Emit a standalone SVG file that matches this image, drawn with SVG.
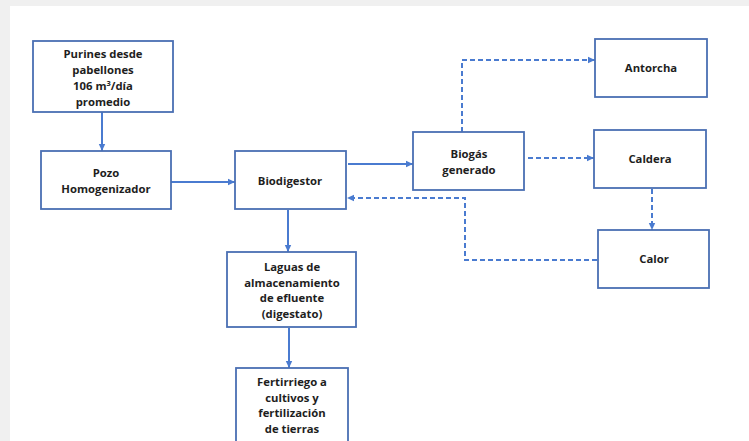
<svg xmlns="http://www.w3.org/2000/svg" width="749" height="441" viewBox="0 0 749 441">
<style>
.box{fill:#ffffff;stroke:#4a6fb3;stroke-width:1.8}
.t{font-family:"Open Sans","Liberation Sans",Arial,sans-serif;font-weight:bold;font-size:11.3px;fill:#1e1e1e;text-anchor:middle}
.c{fill:none;stroke:#4a7bd0;stroke-width:2}
.d{stroke-dasharray:5 3}
</style>
<defs>
<marker id="ah" markerWidth="8" markerHeight="8" refX="7" refY="4" orient="auto" markerUnits="userSpaceOnUse">
<path d="M0,0.8 L7,4 L0,7.2 Z" fill="#4a7bd0"/>
</marker>
</defs>
<rect x="0" y="0" width="749" height="441" fill="#f0f0f0"/>
<rect x="10" y="6" width="739" height="435" fill="#ffffff"/>
<g id="connectors">
<line class="c" x1="102" y1="112" x2="102" y2="151" marker-end="url(#ah)"/>
<line class="c" x1="171" y1="182" x2="235" y2="182" marker-end="url(#ah)"/>
<line class="c" x1="348" y1="164" x2="413" y2="164" marker-end="url(#ah)"/>
<line class="c" x1="288" y1="210" x2="288" y2="252" marker-end="url(#ah)"/>
<line class="c" x1="289" y1="328" x2="289" y2="368" marker-end="url(#ah)"/>
<polyline class="c d" points="462,132 462,60 595,60" marker-end="url(#ah)"/>
<line class="c d" x1="528" y1="158" x2="594" y2="158" marker-end="url(#ah)"/>
<line class="c d" x1="652" y1="189" x2="652" y2="230" marker-end="url(#ah)"/>
<polyline class="c d" points="597,260 465,260 465,198 347,198" marker-end="url(#ah)"/>
</g>
<g id="purines">
<rect class="box" x="33" y="41" width="140" height="71"/>
<text class="t" x="103" y="58">Purines desde</text>
<text class="t" x="103" y="74">pabellones</text>
<text class="t" x="103" y="90">106 m<tspan font-size="7.5" dy="-4.5">3</tspan><tspan dy="4.5">/día</tspan></text>
<text class="t" x="103" y="106">promedio</text>
</g>
<g id="pozo">
<rect class="box" x="41" y="151" width="130" height="58"/>
<text class="t" x="106" y="177">Pozo</text>
<text class="t" x="106" y="193">Homogenizador</text>
</g>
<g id="biodigestor">
<rect class="box" x="235" y="151" width="111" height="58"/>
<text class="t" x="290" y="185">Biodigestor</text>
</g>
<g id="biogas">
<rect class="box" x="413" y="132" width="111" height="58"/>
<text class="t" x="469" y="158">Biogás</text>
<text class="t" x="469" y="174">generado</text>
</g>
<g id="antorcha">
<rect class="box" x="595" y="39" width="112" height="58"/>
<text class="t" x="651" y="72">Antorcha</text>
</g>
<g id="caldera">
<rect class="box" x="594" y="130" width="112" height="58"/>
<text class="t" x="650" y="163">Caldera</text>
</g>
<g id="calor">
<rect class="box" x="598" y="230" width="111" height="58"/>
<text class="t" x="654" y="263">Calor</text>
</g>
<g id="laguas">
<rect class="box" x="227" y="252" width="129" height="75"/>
<text class="t" x="292" y="271">Laguas de</text>
<text class="t" x="292" y="286.5">almacenamiento</text>
<text class="t" x="292" y="302">de efluente</text>
<text class="t" x="292" y="317.5">(digestato)</text>
</g>
<g id="fertirriego">
<rect class="box" x="236" y="368" width="112" height="80"/>
<text class="t" x="292" y="386">Fertirriego a</text>
<text class="t" x="292" y="401.5">cultivos y</text>
<text class="t" x="292" y="417">fertilización</text>
<text class="t" x="292" y="432.5">de tierras</text>
</g>
</svg>
